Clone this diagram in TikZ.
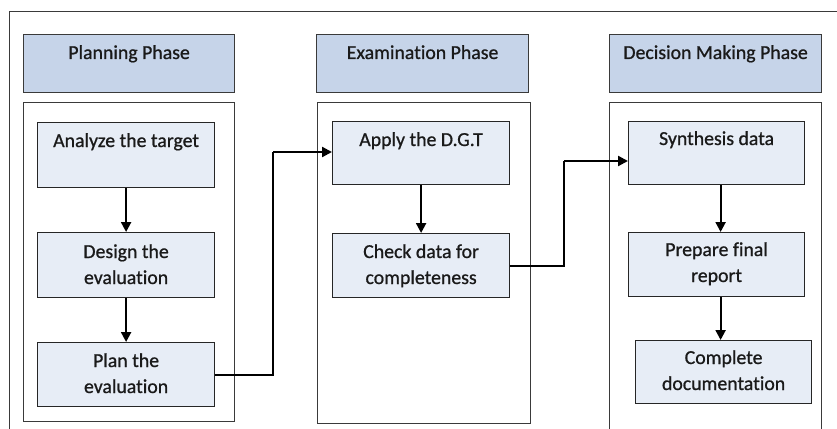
\documentclass[tikz,border=0pt]{standalone}
\usepackage{fontspec}
\setmainfont{Carlito}[Ligatures=NoCommon, FakeBold=0.8]
\usetikzlibrary{arrows.meta,calc}
\definecolor{headfill}{HTML}{C6D4E9}
\definecolor{stepfill}{HTML}{E7EDF6}
\definecolor{edgegray}{HTML}{3A3A3A}
\definecolor{inkcol}{HTML}{1A1A1A}
\tikzset{
  headbox/.style={draw=edgegray, line width=1.2pt, fill=headfill, anchor=north west, inner sep=0pt},
  panelbox/.style={draw=edgegray, line width=1.2pt, fill=white, anchor=north west, inner sep=0pt},
  stepbox/.style={draw=black!85, line width=1.2pt, fill=stepfill, anchor=north west, inner sep=0pt},
  % base anchor of a two-line label sits on its last line
  lbl/.style={anchor=base, align=center, inner sep=0pt, text=inkcol,
              font=\fontsize{19.8}{26}\selectfont},
  flow/.style={line width=2.2pt, black, -{Triangle[length=10pt,width=10pt]}},
  link/.style={line width=2.2pt, black},
}
\begin{document}
\begin{tikzpicture}[x=1pt,y=-1pt]
\useasboundingbox (0,0) rectangle (837,428);
\clip (0,0) rectangle (837,428);
% outer frame, running off the right and bottom edges
\draw[edgegray, line width=1pt] (9,12) rectangle (860,460);

% phase headers
\node[headbox, minimum width=211pt, minimum height=58pt] (h1) at (23,34) {};
\node[headbox, minimum width=212pt, minimum height=58pt] (h2) at (316,34) {};
\node[headbox, minimum width=212pt, minimum height=58pt] (h3) at (609,34) {};

% phase panels
\node[panelbox, minimum width=211pt, minimum height=319pt] (p1) at (23,102) {};
\node[panelbox, minimum width=213pt, minimum height=321pt] (p2) at (317,102) {};
\node[panelbox, minimum width=212pt, minimum height=335pt] (p3) at (609,102) {};

% steps
\node[stepbox, minimum width=177pt, minimum height=65pt] (a1) at (37,122) {};
\node[stepbox, minimum width=177pt, minimum height=65pt] (a2) at (37,232) {};
\node[stepbox, minimum width=177pt, minimum height=64pt] (a3) at (37,342) {};
\node[stepbox, minimum width=177pt, minimum height=63pt] (b1) at (332,121) {};
\node[stepbox, minimum width=177pt, minimum height=64pt] (b2) at (332,233) {};
\node[stepbox, minimum width=176pt, minimum height=63pt] (d1) at (628,121) {};
\node[stepbox, minimum width=176pt, minimum height=64pt] (d2) at (628,232) {};
\node[stepbox, minimum width=176pt, minimum height=63pt] (d3) at (635,340) {};

% labels
\node[lbl] at ($(h1.north)+(0,25)$) {Planning Phase};
\node[lbl] at ($(h2.north)+(0,25)$) {Examination Phase};
\node[lbl] at ($(h3.north)+(0,25)$) {Decision Making Phase};
\node[lbl] at ($(a1.north)+(0,25)$) {Analyze the target};
\node[lbl] at ($(a2.north)+(0,52)$) {Design the\\evaluation};
\node[lbl] at ($(a3.north)+(0,51)$) {Plan the\\evaluation};
\node[lbl] at ($(b1.north)+(0,25)$) {Apply the D.G.T};
\node[lbl] at ($(b2.north)+(0,51)$) {Check data for\\completeness};
\node[lbl] at ($(d1.north)+(0,24)$) {Synthesis data};
\node[lbl] at ($(d2.north)+(0,50)$) {Prepare final\\report};
\node[lbl] at ($(d3.north)+(0,50)$) {Complete\\documentation};

% arrows inside the panels
\draw[flow] (a1.south) -- (a2.north);
\draw[flow] (a2.south) -- (a3.north);
\draw[flow] (b1.south) -- (b2.north);
\draw[flow] ([xshift=4pt]d1.south) -- ([xshift=4pt]d1.south |- d2.north);
\draw[flow] ([xshift=4pt]d2.south) -- ([xshift=4pt]d2.south |- d3.north);

% links between the phases
\coordinate (k1) at (273,152);
\coordinate (k2) at (564,161);
\draw[link] (a3.east) -| (k1);
\draw[flow] (k1) -- (k1 -| b1.west);
\draw[link] (b2.east) -| (k2);
\draw[flow] (k2) -- (k2 -| d1.west);
\end{tikzpicture}
\end{document}
